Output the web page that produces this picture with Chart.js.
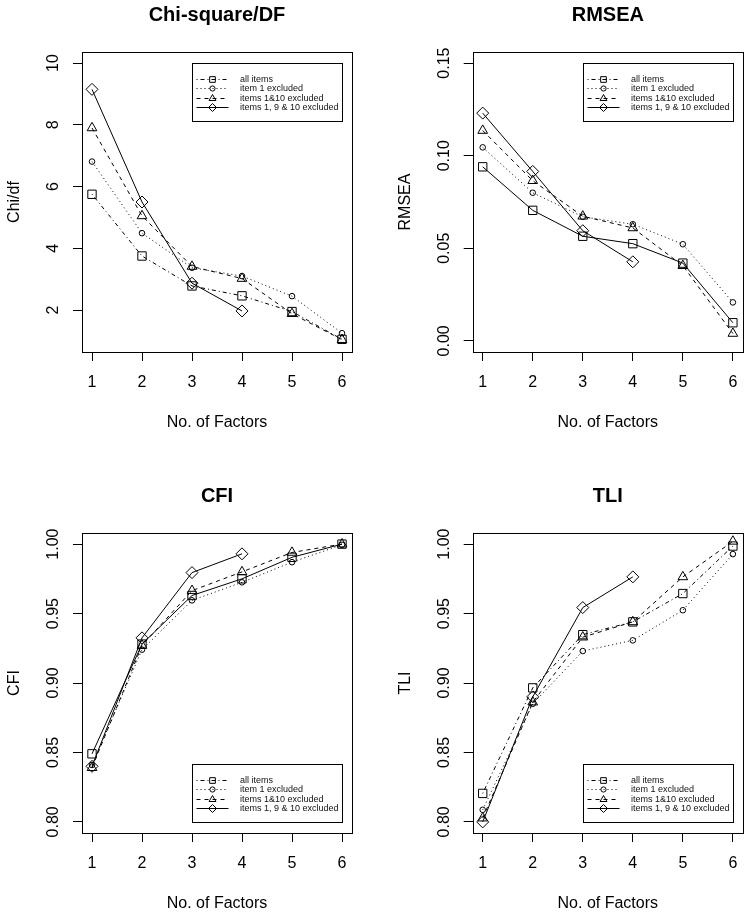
<!DOCTYPE html>
<html>
<head>
<meta charset="utf-8">
<script src="https://cdn.jsdelivr.net/npm/chart.js@4.4.1/dist/chart.umd.min.js"></script>
<style>
html,body{margin:0;padding:0;background:#fff;overflow:hidden;width:750px;height:916px;}
.panel{position:absolute;width:375px;height:435px;}
canvas{display:block;}
</style>
</head>
<body>
<div class="panel" style="left:0;top:0"><canvas id="c1" width="375" height="435"></canvas></div>
<div class="panel" style="left:375px;top:0"><canvas id="c2" width="375" height="435"></canvas></div>
<div class="panel" style="left:0;top:481px"><canvas id="c3" width="375" height="435"></canvas></div>
<div class="panel" style="left:375px;top:481px"><canvas id="c4" width="375" height="435"></canvas></div>
<script>
// ---------- data ----------
const factors = [1, 2, 3, 4, 5, 6];
const seriesNames = ['all items', 'item 1 excluded', 'items 1&10 excluded', 'items 1, 9 & 10 excluded'];

const chiAll      = [5.75, 3.75, 2.78, 2.46, 1.95, 1.05];
const chiItem1    = [6.81, 4.49, 3.37, 3.10, 2.45, 1.25];
const chiItems110 = [7.90, 5.05, 3.41, 3.02, 1.88, 1.04];
const chiItems1910 = [9.15, 5.50, 2.87, 1.97];

const rmseaAll      = [0.0940, 0.0705, 0.0565, 0.0525, 0.0420, 0.0098];
const rmseaItem1    = [0.1045, 0.0800, 0.0670, 0.0630, 0.0522, 0.0208];
const rmseaItems110 = [0.1136, 0.0865, 0.0673, 0.0610, 0.0406, 0.0040];
const rmseaItems1910 = [0.1230, 0.0915, 0.0595, 0.0427];

const cfiAll      = [0.849, 0.928, 0.963, 0.975, 0.9905, 1.000];
const cfiItem1    = [0.841, 0.924, 0.9595, 0.9725, 0.987, 0.9995];
const cfiItems110 = [0.839, 0.927, 0.9665, 0.980, 0.994, 1.000];
const cfiItems1910 = [0.840, 0.9325, 0.9795, 0.993];

const tliAll      = [0.8205, 0.8965, 0.9348, 0.9440, 0.9644, 0.9986];
const tliItem1    = [0.8087, 0.8850, 0.9230, 0.9307, 0.9524, 0.9928];
const tliItems110 = [0.8027, 0.8862, 0.9330, 0.9440, 0.9764, 1.0020];
const tliItems1910 = [0.8000, 0.8900, 0.9543, 0.9764];

const xTicks = [1, 2, 3, 4, 5, 6];
const chiTicks = [2, 4, 6, 8, 10];
const rmseaTicks = [0.00, 0.05, 0.10, 0.15];
const fitTicks = [0.80, 0.85, 0.90, 0.95, 1.00];

// ---------- styles ----------
const FONT = '"Liberation Sans", Arial, Helvetica, sans-serif';
const pointStyles = ['rect', 'circle', 'triangle', 'rectRot'];
const pointRadii = [5.9, 2.8, 5.6, 6.0];
const legendDashes = [[1, 3, 4, 3], [1, 3], [4, 4], []];

function measureWidth(text, size) {
  const c = document.createElement('canvas').getContext('2d');
  c.font = size + 'px ' + FONT;
  return c.measureText(text).width;
}

const boxPlugin = {
  id: 'rbox',
  afterDatasetsDraw(chart) {
    const {ctx, chartArea: a} = chart;
    ctx.save();
    ctx.strokeStyle = '#000';
    ctx.lineWidth = 1;
    ctx.setLineDash([]);
    ctx.strokeRect(Math.round(a.left) + 0.5, Math.round(a.top) + 0.5,
      Math.round(a.right - a.left), Math.round(a.bottom - a.top));
    ctx.restore();
  }
};

function drawMarker(ctx, style, x, y, r) {
  ctx.beginPath();
  if (style === 'rect') {
    const s = r * Math.SQRT1_2;
    ctx.rect(x - s, y - s, 2 * s, 2 * s);
  } else if (style === 'circle') {
    ctx.arc(x, y, r, 0, Math.PI * 2);
  } else if (style === 'triangle') {
    ctx.moveTo(x, y - r);
    ctx.lineTo(x + r * Math.sin(2 * Math.PI / 3), y - r * Math.cos(2 * Math.PI / 3));
    ctx.lineTo(x + r * Math.sin(4 * Math.PI / 3), y - r * Math.cos(4 * Math.PI / 3));
    ctx.closePath();
  } else {
    ctx.moveTo(x - r, y); ctx.lineTo(x, y - r); ctx.lineTo(x + r, y); ctx.lineTo(x, y + r);
    ctx.closePath();
  }
  ctx.stroke();
}

const legendPlugin = {
  id: 'rlegend',
  afterDraw(chart, args, opts) {
    const {ctx} = chart;
    const xs = chart.scales.x, ys = chart.scales.y;
    const w = 150, h = 58;
    const right = Math.round(xs.getPixelForValue(opts.anchorX)) + 0.5;
    const yAnchor = ys.getPixelForValue(opts.anchorY);
    const top = opts.corner === 'top' ? Math.round(yAnchor) + 0.5 : Math.round(yAnchor - h) + 0.5;
    const left = right - w;
    ctx.save();
    ctx.fillStyle = '#fff';
    ctx.fillRect(left, top, w, h);
    ctx.strokeStyle = '#000';
    ctx.lineWidth = 1;
    ctx.strokeRect(left, top, w, h);
    const markerR = [4, 2.6, 4, 4];
    seriesNames.forEach((name, i) => {
      const cy = Math.round(top + 15 + i * 9.6) + 0.5;
      ctx.setLineDash(legendDashes[i]);
      ctx.beginPath();
      ctx.moveTo(left + 4, cy);
      ctx.lineTo(left + 36, cy);
      ctx.stroke();
      ctx.setLineDash([]);
      ctx.fillStyle = '#fff';
      drawMarker(ctx, pointStyles[i], left + 20, cy, markerR[i]);
      ctx.fillStyle = '#111';
      ctx.font = '9px ' + FONT;
      ctx.textAlign = 'left';
      ctx.textBaseline = 'middle';
      ctx.fillText(name, left + 47.5, cy);
    });
    ctx.restore();
  }
};

function makePanel(id, cfg) {
  const datasets = cfg.series.map((vals, i) => ({
    label: seriesNames[i],
    data: vals.map((v, k) => ({x: factors[k], y: v})),
    borderColor: '#000',
    borderWidth: 1,
    borderDash: cfg.dashes[i],
    pointStyle: pointStyles[i],
    pointRadius: pointRadii[i],
    pointBorderWidth: 1,
    pointBorderColor: '#000',
    pointBackgroundColor: 'rgba(255,255,255,0)',
    fill: false,
    tension: 0
  }));
  const tickFont = {family: FONT, size: 16};
  const widest = Math.max(...cfg.yTicks.map(v => measureWidth(v.toFixed(cfg.dec), 16)));
  const tickLen = 9;
  const yPad = 28.5 - tickLen - widest / 2;
  return new Chart(document.getElementById(id), {
    type: 'line',
    data: {datasets},
    options: {
      responsive: false,
      animation: false,
      events: [],
      layout: {padding: {top: 0, right: cfg.rightPad, bottom: 0, left: 0}},
      plugins: {
        legend: {display: false},
        tooltip: {enabled: false},
        title: {
          display: true, text: cfg.title, fullSize: false, color: '#000',
          font: {family: FONT, size: 20, weight: 'bold'},
          padding: {top: 3, bottom: 25}
        },
        rlegend: {anchorX: 6, anchorY: cfg.legendY, corner: cfg.corner}
      },
      scales: {
        x: {
          type: 'linear', min: 0.8, max: 6.2,
          afterBuildTicks: s => { s.ticks = xTicks.map(v => ({value: v})); },
          afterFit: s => { s.height = 83; },
          grid: {display: true, drawOnChartArea: false, drawTicks: true, tickLength: tickLen, color: '#000', lineWidth: 1},
          border: {display: false},
          ticks: {font: tickFont, color: '#000', padding: 12.4, minRotation: 0, maxRotation: 0, autoSkip: false,
                  callback: v => String(v)},
          title: {display: true, text: 'No. of Factors', color: '#000', font: tickFont, padding: {top: 0, bottom: 2.4}}
        },
        y: {
          type: 'linear', min: cfg.yMin, max: cfg.yMax,
          afterBuildTicks: s => { s.ticks = cfg.yTicks.map(v => ({value: v})); },
          afterFit: s => { s.width = cfg.axisWidth; },
          grid: {display: true, drawOnChartArea: false, drawTicks: true, tickLength: tickLen, color: '#000', lineWidth: 1},
          border: {display: false},
          ticks: {font: tickFont, color: '#000', padding: yPad, minRotation: 90, maxRotation: 90,
                  crossAlign: 'center', autoSkip: false, callback: v => Number(v).toFixed(cfg.dec)},
          title: {display: true, text: cfg.yTitle, color: '#000', font: tickFont, padding: {top: cfg.yTitlePad, bottom: 0}}
        }
      }
    },
    plugins: [boxPlugin, legendPlugin]
  });
}

const dashDot = [1, 3, 4, 3], dotted = [1, 3], dashed = [4, 4], solid = [];

makePanel('c1', {
  title: 'Chi-square/DF', yTitle: 'Chi/df',
  series: [chiAll, chiItem1, chiItems110, chiItems1910],
  dashes: [dashDot, dotted, dashed, solid],
  yMin: 0.64, yMax: 10.36, yTicks: chiTicks, dec: 0,
  axisWidth: 82, rightPad: 23, yTitlePad: 4.9,
  legendY: 10, corner: 'top'
});
makePanel('c2', {
  title: 'RMSEA', yTitle: 'RMSEA',
  series: [rmseaAll, rmseaItem1, rmseaItems110, rmseaItems1910],
  dashes: [solid, dotted, dashed, solid],
  yMin: -0.006, yMax: 0.156, yTicks: rmseaTicks, dec: 2,
  axisWidth: 97.7, rightPad: 7, yTitlePad: 20.6,
  legendY: 0.15, corner: 'top'
});
makePanel('c3', {
  title: 'CFI', yTitle: 'CFI',
  series: [cfiAll, cfiItem1, cfiItems110, cfiItems1910],
  dashes: [solid, dotted, dashed, solid],
  yMin: 0.792, yMax: 1.008, yTicks: fitTicks, dec: 2,
  axisWidth: 82, rightPad: 23, yTitlePad: 4.9,
  legendY: 0.80, corner: 'bottom'
});
makePanel('c4', {
  title: 'TLI', yTitle: 'TLI',
  series: [tliAll, tliItem1, tliItems110, tliItems1910],
  dashes: [dashDot, dotted, dashed, solid],
  yMin: 0.792, yMax: 1.008, yTicks: fitTicks, dec: 2,
  axisWidth: 97.7, rightPad: 7, yTitlePad: 20.6,
  legendY: 0.80, corner: 'bottom'
});
</script>
</body>
</html>
